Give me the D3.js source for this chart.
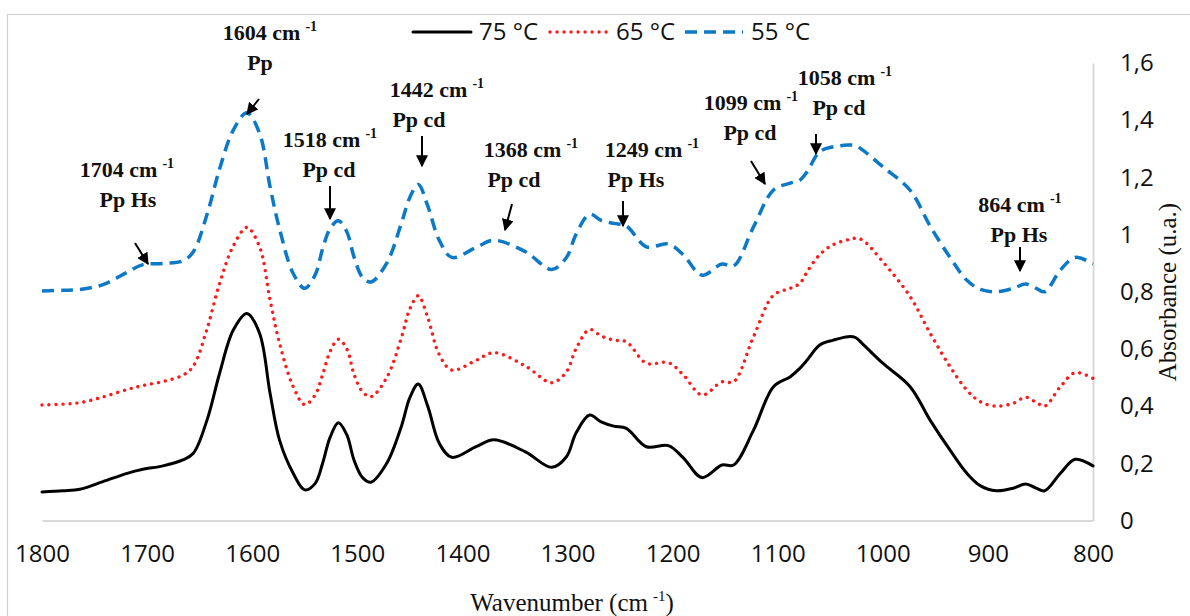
<!DOCTYPE html>
<html>
<head>
<meta charset="utf-8">
<script src="https://cdn.jsdelivr.net/npm/d3@7"></script>
<style>
  body { margin: 0; background: #fff; }
</style>
</head>
<body>
<div id="chart"></div>
<script>
// FTIR spectra
const wavenumbers = [1800, 1780, 1764, 1742, 1719, 1704, 1685, 1666, 1656, 1643, 1631, 1618, 1605, 1593, 1583, 1574, 1561, 1550,
  1540, 1533, 1526, 1518, 1510, 1503, 1495, 1487,
  1472, 1458, 1450, 1442, 1433, 1422, 1410,
  1387, 1370, 1340, 1315, 1301, 1292, 1279, 1268, 1256, 1244,
  1225, 1204, 1190, 1172, 1153, 1142, 1123, 1104, 1088, 1079, 1072, 1060, 1047, 1033, 1026, 1019, 1000, 974, 955, 936,
  920, 907, 892, 876, 864, 854, 846, 831, 817, 800];

const abs75 = [0.100, 0.104, 0.109, 0.136, 0.165, 0.179, 0.191, 0.212, 0.235, 0.351, 0.515, 0.666, 0.724, 0.655, 0.445, 0.281, 0.165, 0.107,
  0.130, 0.200, 0.290, 0.342, 0.300, 0.210, 0.150, 0.134,
  0.200, 0.330, 0.430, 0.477, 0.400, 0.270, 0.221,
  0.258, 0.282, 0.240, 0.186, 0.223, 0.305, 0.369, 0.345, 0.330, 0.322,
  0.258, 0.262, 0.220, 0.150, 0.194, 0.194, 0.316, 0.468, 0.503, 0.532, 0.561, 0.614, 0.631, 0.643, 0.640, 0.617, 0.550, 0.468, 0.351, 0.246,
  0.165, 0.121, 0.104, 0.113, 0.128, 0.113, 0.104, 0.165, 0.214, 0.191];

const abs65 = [0.404, 0.407, 0.412, 0.432, 0.458, 0.472, 0.486, 0.508, 0.540, 0.670, 0.830, 0.960, 1.025, 0.957, 0.771, 0.620, 0.468, 0.405,
  0.440, 0.510, 0.590, 0.634, 0.600, 0.510, 0.450, 0.433,
  0.500, 0.640, 0.740, 0.786, 0.710, 0.580, 0.526,
  0.560, 0.587, 0.540, 0.482, 0.520, 0.600, 0.668, 0.645, 0.631, 0.625,
  0.550, 0.552, 0.510, 0.439, 0.485, 0.485, 0.643, 0.788, 0.812, 0.829, 0.870, 0.930, 0.965, 0.982, 0.987, 0.980, 0.905, 0.783, 0.655, 0.538,
  0.456, 0.415, 0.400, 0.410, 0.431, 0.413, 0.400, 0.468, 0.517, 0.497];

const abs55 = [0.803, 0.805, 0.808, 0.825, 0.868, 0.895, 0.899, 0.908, 0.940, 1.070, 1.230, 1.365, 1.426, 1.354, 1.167, 1.020, 0.864, 0.812,
  0.860, 0.950, 1.020, 1.048, 1.010, 0.920, 0.850, 0.834,
  0.900, 1.040, 1.130, 1.175, 1.100, 0.980, 0.920,
  0.955, 0.980, 0.940, 0.878, 0.920, 1.000, 1.071, 1.050, 1.039, 1.030,
  0.957, 0.967, 0.930, 0.858, 0.897, 0.890, 1.027, 1.156, 1.180, 1.190, 1.220, 1.290, 1.307, 1.313, 1.312, 1.295, 1.237, 1.155, 1.030, 0.920,
  0.840, 0.808, 0.800, 0.812, 0.827, 0.812, 0.800, 0.876, 0.920, 0.897];

const seriesNames = ["75 °C", "65 °C", "55 °C"];
const xTicks = [1800, 1700, 1600, 1500, 1400, 1300, 1200, 1100, 1000, 900, 800];
const yTicks = [0, 0.2, 0.4, 0.6, 0.8, 1, 1.2, 1.4, 1.6];

const peakBands = ["1604", "1518", "1704", "1442", "1368", "1249", "1099", "1058", "864"];
const peakGroups = ["Pp", "Pp cd", "Pp Hs", "Pp cd", "Pp cd", "Pp Hs", "Pp cd", "Pp cd", "Pp Hs"];

// label placement: centre x of each text line, baseline of line 1, arrow tail/tip
const peakLayout = [
  { x1: 270, x2: 260, y: 40, arrow: [259, 99, 247, 114] },
  { x1: 330, x2: 329, y: 147, arrow: [330, 186, 330, 219] },
  { x1: 127, x2: 128, y: 177, arrow: [135, 243, 148, 264] },
  { x1: 437, x2: 419, y: 97, arrow: [422, 136, 422, 166] },
  { x1: 531, x2: 514, y: 157, arrow: [512, 204, 505, 230] },
  { x1: 652, x2: 636, y: 157, arrow: [623, 201, 623, 226] },
  { x1: 751, x2: 750, y: 110, arrow: [751, 161, 765, 184] },
  { x1: 845, x2: 839, y: 85, arrow: [816, 134, 816, 154] },
  { x1: 1020, x2: 1019, y: 212, arrow: [1020, 247, 1020, 271] }
];

const width = 1190, height = 616;
const tickFont = "'Open Sans', sans-serif";
const serifFont = "'Liberation Serif', 'Times New Roman', serif";
const gridGray = "#d9d9d9";

const styles = [
  { color: "#000000", dash: null, width: 3, cap: "round" },
  { color: "#ff1a1a", dash: "0.01 7", width: 3.4, cap: "round" },
  { color: "#0b78c8", dash: "12 7", width: 3.5, cap: "butt" }
];

const svg = d3.select("#chart").append("svg")
  .attr("width", width)
  .attr("height", height)
  .style("font-family", tickFont);

svg.append("rect")
  .attr("width", width).attr("height", height)
  .attr("fill", "#fff");

// outer frame (runs off the right / bottom edge like the source)
svg.append("rect")
  .attr("x", 7.5).attr("y", 14.5)
  .attr("width", width + 10).attr("height", height + 10)
  .attr("fill", "none")
  .attr("stroke", "#cfcfcf")
  .attr("stroke-width", 1.2);

const x = d3.scaleLinear().domain([1800, 800]).range([42, 1093]);
const y = d3.scaleLinear().domain([0, 1.6]).range([520.5, 63]);

// axes
const xAxis = svg.append("g")
  .attr("transform", `translate(0, ${y(0)})`)
  .call(d3.axisBottom(x).tickValues(xTicks).tickSize(0).tickPadding(24).tickFormat(d3.format("d")));
xAxis.select(".domain").attr("stroke", gridGray).attr("stroke-width", 2);
xAxis.selectAll("text")
  .style("font-family", tickFont)
  .style("font-size", "24px")
  .attr("fill", "#111");

const yAxis = svg.append("g")
  .attr("transform", `translate(${x(800)}, 0)`)
  .call(d3.axisRight(y).tickValues(yTicks).tickSize(0).tickPadding(27)
    .tickFormat(d => String(d).replace(".", ",")));
yAxis.select(".domain").attr("stroke", gridGray).attr("stroke-width", 2);
yAxis.selectAll("text")
  .style("font-family", tickFont)
  .style("font-size", "24px")
  .attr("fill", "#111");

// spectra
const series = [abs75, abs65, abs55];
const line = d3.line()
  .x((d, i) => x(wavenumbers[i]))
  .y(d => y(d))
  .curve(d3.curveCatmullRom.alpha(0.5));

svg.append("g")
  .selectAll("path")
  .data(series)
  .join("path")
  .attr("d", d => line(d))
  .attr("fill", "none")
  .attr("stroke", (d, i) => styles[i].color)
  .attr("stroke-width", (d, i) => styles[i].width)
  .attr("stroke-dasharray", (d, i) => styles[i].dash)
  .attr("stroke-linecap", (d, i) => styles[i].cap)
  .attr("stroke-linejoin", "round");

// legend
const legendX = [413, 550, 685];
const legend = svg.append("g");
seriesNames.forEach((name, i) => {
  legend.append("line")
    .attr("x1", legendX[i]).attr("x2", legendX[i] + 58)
    .attr("y1", 32).attr("y2", 32)
    .attr("stroke", styles[i].color)
    .attr("stroke-width", styles[i].width)
    .attr("stroke-dasharray", styles[i].dash)
    .attr("stroke-linecap", styles[i].cap);
  legend.append("text")
    .attr("x", legendX[i] + 66)
    .attr("y", 32)
    .attr("dy", "0.35em")
    .style("font-size", "24px")
    .attr("fill", "#111")
    .text(name);
});

// arrow head
svg.append("defs").append("marker")
  .attr("id", "head")
  .attr("viewBox", "0 0 10 10")
  .attr("refX", 9).attr("refY", 5)
  .attr("markerWidth", 6).attr("markerHeight", 6)
  .attr("markerUnits", "strokeWidth")
  .attr("orient", "auto")
  .append("path")
  .attr("d", "M0,0 L10,5 L0,10 z")
  .attr("fill", "#000");

// peak annotations
const notes = svg.append("g")
  .style("font-family", serifFont)
  .style("font-weight", "bold")
  .attr("fill", "#111");

peakBands.forEach((band, i) => {
  const p = peakLayout[i];
  const t = notes.append("text")
    .attr("x", p.x1).attr("y", p.y)
    .attr("text-anchor", "middle")
    .style("font-size", "22px");
  t.append("tspan").text(`${band} cm`);
  t.append("tspan").attr("dx", 5).attr("dy", -9).style("font-size", "14px").text("-1");

  notes.append("text")
    .attr("x", p.x2).attr("y", p.y + 30)
    .attr("text-anchor", "middle")
    .style("font-size", "22px")
    .text(peakGroups[i]);

  notes.append("line")
    .attr("x1", p.arrow[0]).attr("y1", p.arrow[1])
    .attr("x2", p.arrow[2]).attr("y2", p.arrow[3])
    .attr("stroke", "#000")
    .attr("stroke-width", 2)
    .attr("marker-end", "url(#head)");
});

// axis titles
const xTitle = svg.append("text")
  .attr("x", 572).attr("y", 611)
  .attr("text-anchor", "middle")
  .style("font-family", serifFont)
  .style("font-size", "25px")
  .attr("fill", "#111");
xTitle.append("tspan").text("Wavenumber (cm");
xTitle.append("tspan").attr("dx", 5).attr("dy", -10).style("font-size", "15px").text("-1");
xTitle.append("tspan").attr("dy", 10).text(")");

svg.append("text")
  .attr("transform", `translate(1176, 292) rotate(-90)`)
  .attr("text-anchor", "middle")
  .style("font-family", serifFont)
  .style("font-size", "25px")
  .attr("fill", "#111")
  .text("Absorbance (u.a.)");
</script>
</body>
</html>
